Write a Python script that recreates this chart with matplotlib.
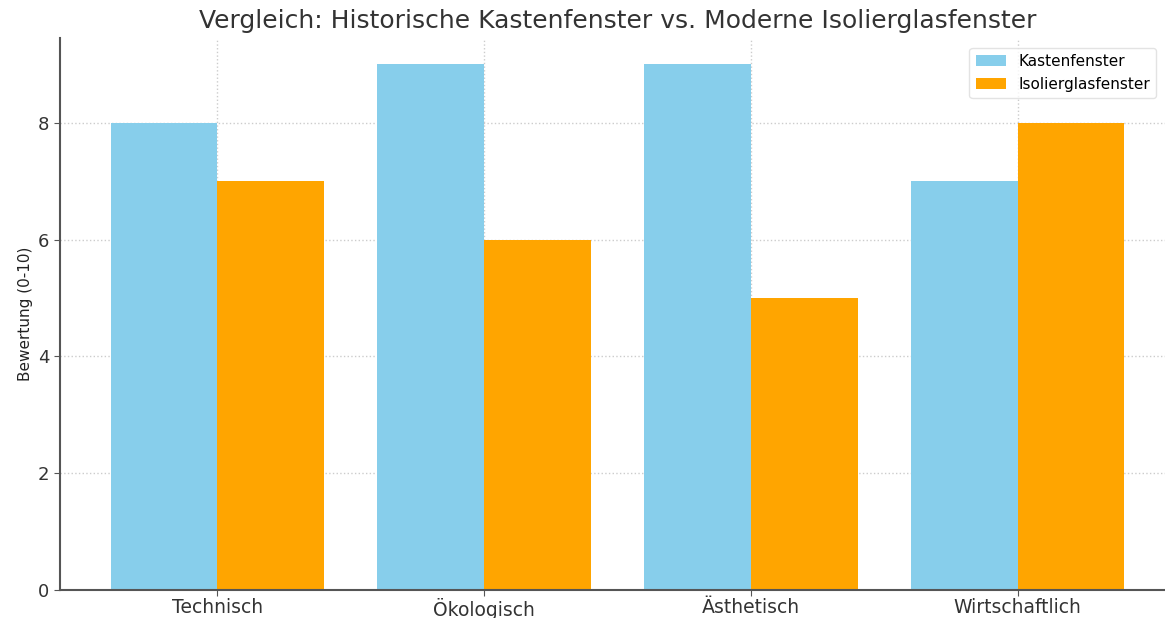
import matplotlib.pyplot as plt
import numpy as np

categories = ['Technisch', 'Ökologisch', 'Ästhetisch', 'Wirtschaftlich']
kastenfenster = [8, 9, 9, 7]
isolierglas = [7, 6, 5, 8]

x = np.arange(len(categories))
width = 0.4

fig = plt.figure(figsize=(11.65, 6.18), dpi=100)
ax = fig.add_axes([0.0515, 0.0453, 0.957, 0.8932])

ax.bar(x - width / 2, kastenfenster, width, label='Kastenfenster', color='skyblue', zorder=2)
ax.bar(x + width / 2, isolierglas, width, label='Isolierglasfenster', color='orange', zorder=2)

ax.set_xticks(x)
ax.set_xticklabels(categories, fontsize=13.5, color='#333333')
ax.tick_params(axis='y', labelsize=13, labelcolor='#333333')
ax.tick_params(axis='both', length=4, color='#555555')
ax.tick_params(axis='x', pad=2)
ax.set_ylabel('Bewertung (0-10)', fontsize=11, color='#222222')
ax.set_title('Vergleich: Historische Kastenfenster vs. Moderne Isolierglasfenster',
             fontsize=18, color='#333333', pad=7)

ax.grid(True, linestyle=':', color='#cccccc', linewidth=1, zorder=0)
ax.set_axisbelow(True)
for s in ['top', 'right']:
    ax.spines[s].set_visible(False)
for s in ['left', 'bottom']:
    ax.spines[s].set_color('#555555')
    ax.spines[s].set_linewidth(1.5)

fig.legend(loc='upper right', bbox_to_anchor=(0.999, 0.935), fontsize=11,
           frameon=True, edgecolor='#dddddd', fancybox=True)

fig.savefig('out.png', dpi=100)
